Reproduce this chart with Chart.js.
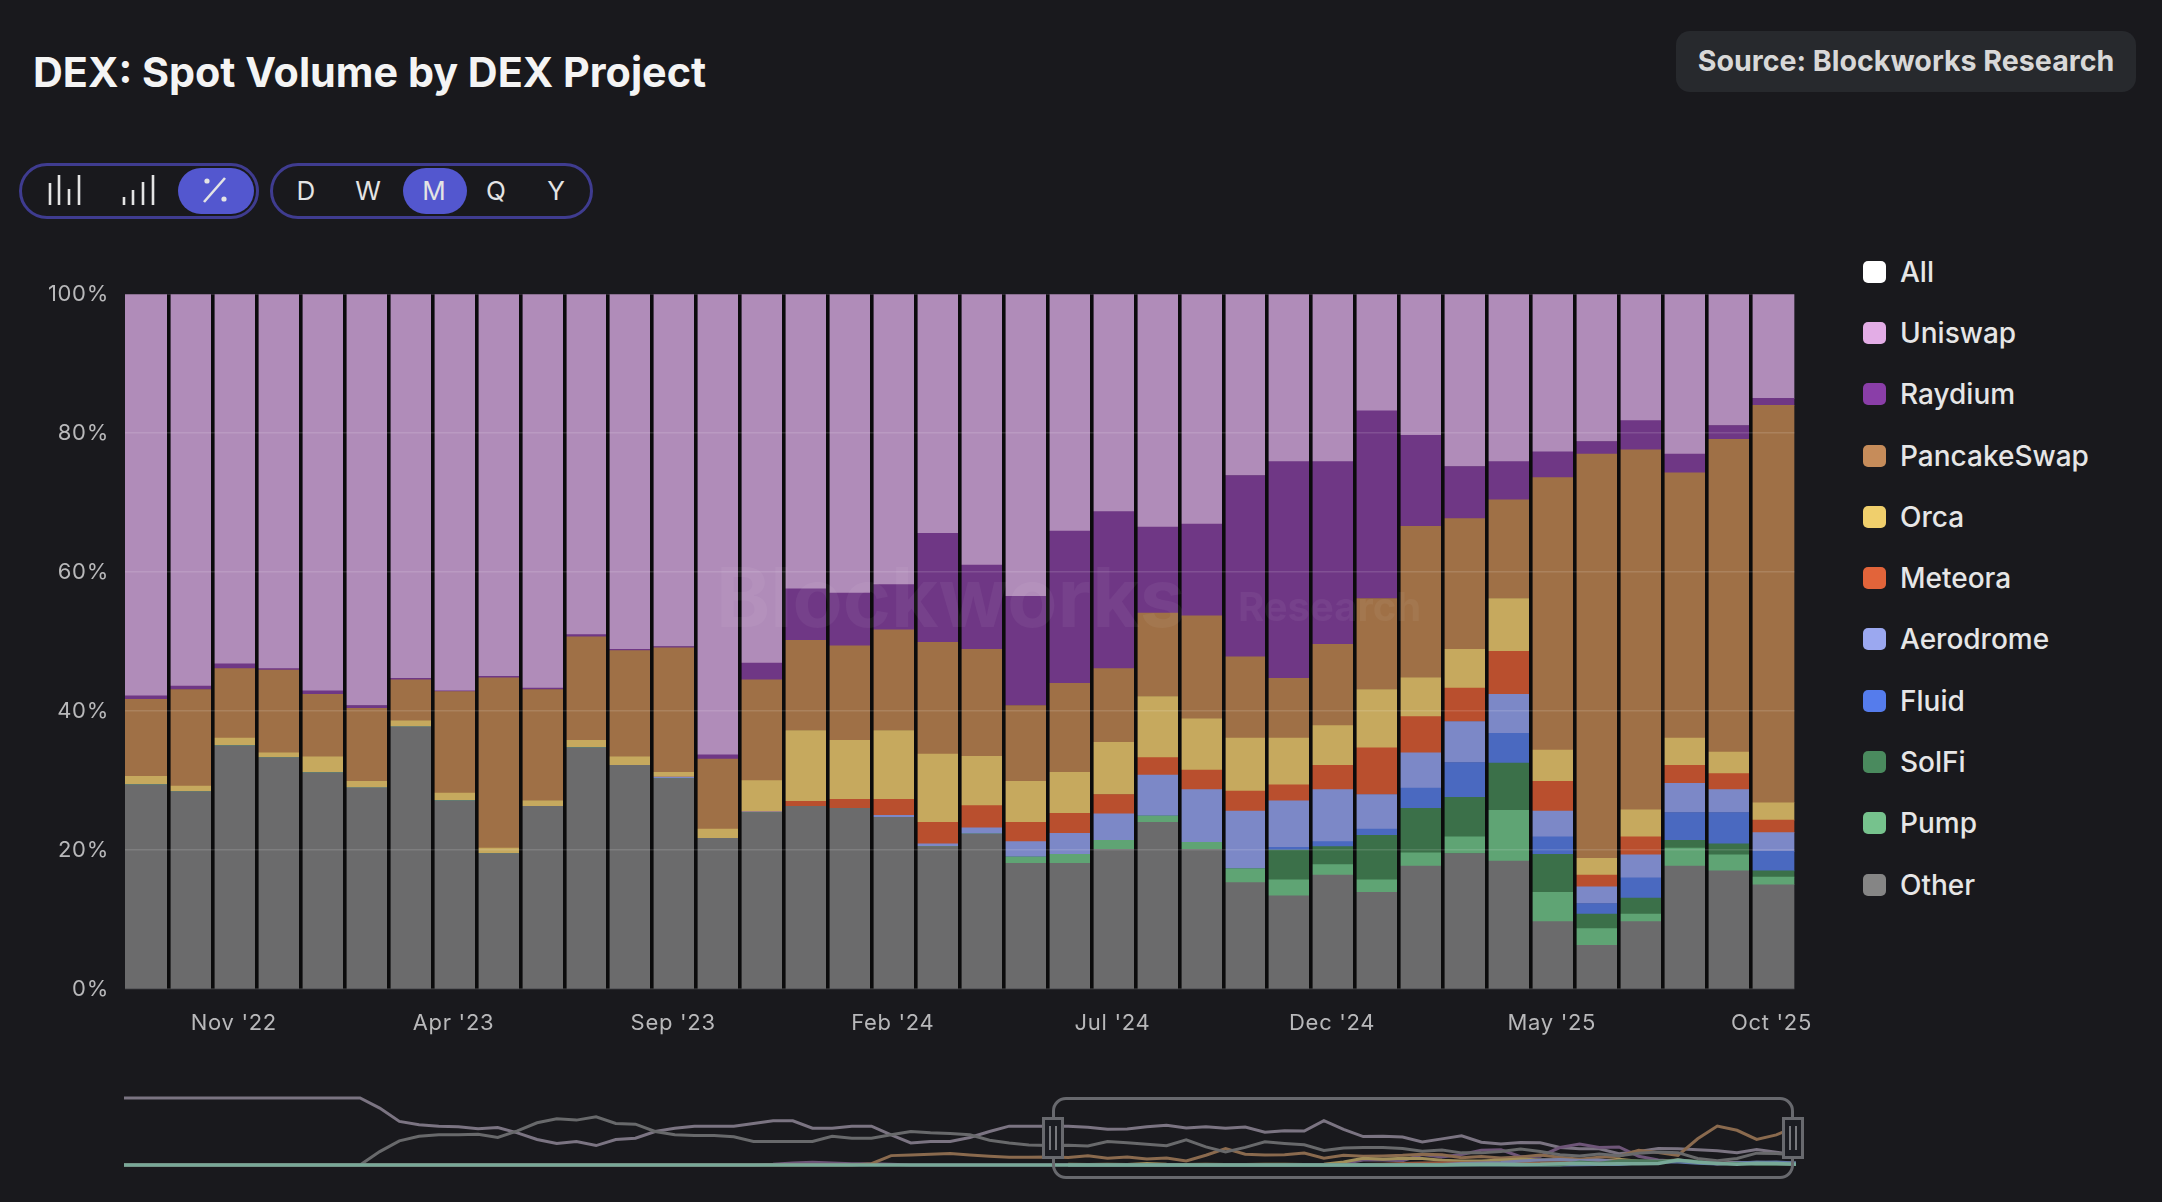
<!DOCTYPE html>
<html>
<head>
<meta charset="utf-8">
<title>DEX: Spot Volume by DEX Project</title>
<script src="https://cdn.jsdelivr.net/npm/chart.js@4"></script>
<style>
  html, body { margin: 0; padding: 0; background: #19191d; width: 2162px; height: 1202px; overflow: hidden; font-family: Inter, "Liberation Sans", sans-serif; }
  .abs { position: absolute; }
  #title { left: 33px; top: 44px; font-size: 41.3px; font-weight: 700; color: #f4f4f4; line-height: 56px; white-space: nowrap; }
  #source { left: 1676px; top: 31px; width: 460px; height: 61px; background: #27292d; border-radius: 14px; color: #d8d8d8; font-size: 28.6px; font-weight: 700; line-height: 59px; text-align: center; white-space: nowrap; }
  .group { top: 163px; height: 50px; border: 3px solid #3f3c90; border-radius: 28px; }
  .pill { top: 168px; height: 46px; background: #5357cf; border-radius: 23px; }
  .letter { top: 168px; height: 46px; line-height: 46px; width: 40px; text-align: center; font-size: 26px; color: #e4e4e4; }
  #legend { left: 1863px; top: 241px; }
  .row { display: flex; align-items: center; height: 61.3px; color: #e6e6e6; font-size: 28px; font-weight: 500; white-space: nowrap; }
  .swatch { width: 23px; height: 22px; border-radius: 5px; margin-right: 14px; }
  #watermark { left: 716px; top: 548px; color: rgba(255,255,255,0.05); font-size: 82px; font-weight: 700; line-height: 100px; white-space: nowrap; pointer-events: none; }
  #watermark2 { left: 1238px; top: 584px; color: rgba(255,255,255,0.05); font-size: 40px; font-weight: 700; line-height: 46px; white-space: nowrap; pointer-events: none; }
  #window { left: 1052px; top: 1097px; width: 736px; height: 76px; border: 3px solid #68696e; border-radius: 14px; }
  .handle { top: 1117px; width: 16px; height: 36px; background: #1b1c22; border: 3px solid #68696e; }
  .handle i { position: absolute; top: 6px; height: 24px; width: 2px; background: #77787d; }
</style>
</head>
<body>
<div id="title" class="abs">DEX: Spot Volume by DEX Project</div>
<div id="source" class="abs">Source: Blockworks Research</div>

<div class="abs group" style="left:19px;width:234px"></div>
<div class="abs group" style="left:270px;width:317px"></div>
<div class="abs pill" style="left:178px;width:76px"></div>
<div class="abs pill" style="left:403px;width:64px"></div>
<svg class="abs" style="left:0;top:0" width="300" height="240" stroke="#e4e4e4" stroke-width="2.6" fill="none">
  <path d="M50 205V183M59 205V175M69 205V189M79 205V175"/>
  <path d="M124 205V197M133 205V190M143 205V182M153 205V175"/>
  <path d="M225 178L204 202"/>
  <circle cx="207" cy="181" r="2.6" fill="#e4e4e4" stroke="none"/>
  <circle cx="224" cy="199" r="2.6" fill="#e4e4e4" stroke="none"/>
</svg>
<div id="letters"></div>

<canvas id="mainChart" class="abs" style="left:0;top:265px"></canvas>
<div id="watermark" class="abs">Blockworks</div>
<div id="watermark2" class="abs">Research</div>
<div id="legend" class="abs"></div>

<canvas id="navChart" class="abs" style="left:124px;top:1090px"></canvas>
<div id="window" class="abs"></div>
<div class="abs handle" style="left:1042px"><i style="left:4px"></i><i style="left:10px"></i></div>
<div class="abs handle" style="left:1782px"><i style="left:4px"></i><i style="left:10px"></i></div>

<script>
// Months shown in the main chart
const months = ["Sep '22","Oct '22","Nov '22","Dec '22","Jan '23","Feb '23","Mar '23","Apr '23","May '23","Jun '23","Jul '23","Aug '23","Sep '23","Oct '23","Nov '23","Dec '23","Jan '24","Feb '24","Mar '24","Apr '24","May '24","Jun '24","Jul '24","Aug '24","Sep '24","Oct '24","Nov '24","Dec '24","Jan '25","Feb '25","Mar '25","Apr '25","May '25","Jun '25","Jul '25","Aug '25","Sep '25","Oct '25"];
const yTicks = [0, 20, 40, 60, 80, 100];
const periods = ['D', 'W', 'M', 'Q', 'Y'];

// Share of monthly volume, %
const uniswap = [57.8,56.4,53.2,53.9,57.1,59.2,55.3,57.1,55.0,56.7,49.0,51.1,50.7,66.3,53.2,42.4,43.0,41.8,34.4,39.0,43.5,34.1,31.3,33.5,33.1,26.1,24.1,24.1,16.8,20.3,24.8,24.1,22.7,21.2,18.2,23.0,18.9,15.0];
const raydium = [0.5,0.5,0.7,0.2,0.5,0.4,0.2,0.1,0.2,0.2,0.3,0.2,0.2,0.6,2.4,7.4,7.6,6.5,15.7,12.1,15.7,21.9,22.6,12.4,13.2,26.1,31.2,26.3,27.0,13.1,7.5,5.5,3.7,1.8,4.2,2.7,2.0,1.0];
const pancakeswap = [11.1,13.9,10.0,11.9,9.0,10.5,5.9,14.6,24.5,16.0,14.9,15.3,17.9,10.1,14.5,13.0,13.6,14.5,16.1,15.4,10.9,12.8,10.6,12.0,14.8,11.7,8.6,11.7,13.1,21.8,18.8,14.2,39.2,58.2,51.8,38.2,45.0,57.2];
const orca = [1.2,0.8,1.1,0.7,2.3,1.0,0.9,1.1,0.8,0.8,1.1,1.2,0.7,1.3,4.5,10.2,8.5,9.9,9.8,7.1,5.9,5.9,7.5,8.8,7.4,7.6,6.7,5.7,8.4,5.6,5.6,7.6,4.5,2.4,3.9,3.9,3.1,2.5];
const meteora = [0,0,0,0,0,0,0,0,0,0,0,0,0,0,0,0.7,1.3,2.3,3.1,3.2,2.8,2.9,2.8,2.5,2.8,2.9,2.3,3.5,6.7,5.2,4.8,6.2,4.3,1.7,2.6,2.6,2.3,1.8];
const aerodrome = [0,0,0,0,0,0,0,0,0,0,0,0,0.2,0,0.1,0,0,0.3,0.4,0.9,2.2,3.0,3.8,5.9,7.6,8.3,6.7,7.5,5.0,5.1,5.9,5.6,3.7,2.4,3.3,4.2,3.3,2.7];
const fluid = [0,0,0,0,0,0,0,0,0,0,0,0,0,0,0,0,0,0,0,0,0,0,0,0,0,0,0.4,0.7,0.9,2.9,5.0,4.3,2.5,1.5,2.9,4.0,4.5,2.8];
const solfi = [0,0,0,0,0,0,0,0,0,0,0,0,0,0,0,0,0,0,0,0,0,0,0,0,0,0,4.3,2.6,6.4,6.4,5.7,6.8,5.5,2.1,2.3,1.1,1.6,0.9];
const pump = [0,0,0,0,0,0,0,0,0,0,0,0,0,0,0,0,0,0,0,0,0.9,1.3,1.3,0.9,1.0,2.0,2.3,1.5,1.8,1.9,2.4,7.3,4.2,2.4,1.1,2.6,2.3,1.1];
const other = [29.4,28.4,35.0,33.3,31.1,28.9,37.7,27.1,19.5,26.3,34.7,32.2,30.3,21.7,25.4,26.3,26.0,24.7,20.5,22.3,18.1,18.1,20.1,24.0,20.1,15.3,13.4,16.4,13.9,17.7,19.5,18.4,9.7,6.3,9.7,17.7,17.0,15.0];

// Navigator history before the selected window (48 months)
const uniswapHistory = [100,100,100,100,100,100,100,100,100,100,100,100,100,85,65,60,58,57,54,56,48,38,32,35,29,38,40,50,55,58,58,58,62,66,66,55,55,58,58,45,33,35,35,41,50,58,58,58];
const otherHistory = [0,0,0,0,0,0,0,0,0,0,0,0,0,20,36,43,45,45,46,41,51,63,69,67,72,62,61,50,45,44,44,42,35,35,35,35,43,40,40,45,50,48,47,45,37,33,30,29];
const pancakeHistory = [0,0,0,0,0,0,0,0,0,0,0,0,0,0,0,0,0,0,0,0,0,0,0,0,0,0,0,0,0,0,0,0,0,0,0,0,0,0,2,14,15,16,17,15,13,11.5,11.5,12];
const raydiumHistory = [0,0,0,0,0,0,0,0,0,0,0,0,0,0,0,0,0,0,0,0,0,0,0,0,0,0,0,0,0,0,0,0,0,1,3,4,3,2,2,1,0,0,0,0,0,0,0,0];
const pumpHistory = [0,0,0,0,0,0,0,0,0,0,0,0,0,0,0,0,0,0,0,0,0,0,0,0,0,0,0,0,0,0,0,0,0,0,0,0,0,0,0,0,0,0,0,0,0,0,0,0];

const legendNames = ['All','Uniswap','Raydium','PancakeSwap','Orca','Meteora','Aerodrome','Fluid','SolFi','Pump','Other'];
const legendColors = ['#ffffff','#e3ade6','#8a3ea8','#c68c5a','#f0cf6c','#e2643a','#9ba8f0','#557cec','#4a8a5e','#76c28d','#858585'];

// Bottom of the stack first
const stack = [
  { label: 'Other', data: other, color: '#6b6b6c', nav: '#68696b' },
  { label: 'Pump', data: pump, color: '#5fa474', nav: '#78a898' },
  { label: 'SolFi', data: solfi, color: '#3b7049', nav: '#4d7a5e' },
  { label: 'Fluid', data: fluid, color: '#4a69c0', nav: '#6077a8' },
  { label: 'Aerodrome', data: aerodrome, color: '#7c88c7', nav: '#7a80a6' },
  { label: 'Meteora', data: meteora, color: '#b94f2e', nav: '#96593f' },
  { label: 'Orca', data: orca, color: '#c6a95e', nav: '#a08e5a' },
  { label: 'PancakeSwap', data: pancakeswap, color: '#9f7046', nav: '#8a6a4e' },
  { label: 'Raydium', data: raydium, color: '#6f3785', nav: '#6e5578' },
  { label: 'Uniswap', data: uniswap, color: '#b08cb9', nav: '#7b7482' }
];

// Toolbar letters
const letterCentres = [306, 368, 434, 496, 556];
document.getElementById('letters').innerHTML = periods.map((p, i) =>
  `<div class="abs letter" style="left:${letterCentres[i] - 20}px">${p}</div>`).join('');

// Legend
document.getElementById('legend').innerHTML = legendNames.map((name, i) =>
  `<div class="row"><span class="swatch" style="background:${legendColors[i]}"></span>${name}</div>`).join('');

Chart.defaults.font.family = 'Inter, "Liberation Sans", sans-serif';
Chart.defaults.animation = false;

const tickColor = '#b8b8ba';

const mainCanvas = document.getElementById('mainChart');
mainCanvas.style.width = '1832px';
mainCanvas.style.height = '785px';
mainCanvas.width = 1832;
mainCanvas.height = 785;

// Tick labels in the reference are spaced a little wider than the plain font
const wideTicks = {
  id: 'wideTicks',
  beforeDraw: chart => { chart.ctx.letterSpacing = '0.7px'; }
};

new Chart(mainCanvas, {
  type: 'bar',
  plugins: [wideTicks],
  data: {
    labels: months,
    datasets: stack.map(s => ({
      label: s.label,
      data: s.data,
      backgroundColor: s.color,
      borderWidth: 0,
      barPercentage: 1,
      categoryPercentage: 1
    }))
  },
  options: {
    responsive: false,
    devicePixelRatio: 1,
    layout: { padding: { top: 19, right: 34, bottom: 0, left: 0 } },
    plugins: { legend: { display: false }, tooltip: { enabled: false } },
    scales: {
      x: {
        stacked: true,
        afterFit: scale => { scale.height = 61; },
        border: { display: false },
        grid: {
          offset: true,
          z: 1,
          lineWidth: 3.6,
          drawTicks: false,
          color: ctx => (ctx.index > 0 ? '#0b0b0c' : 'rgba(0,0,0,0)')
        },
        ticks: {
          autoSkip: false,
          maxRotation: 0,
          padding: 21,
          labelOffset: -1,
          color: tickColor,
          font: { size: 22 },
          callback: (v, i) => (i % 5 === 2 ? months[i] : '')
        }
      },
      y: {
        stacked: true,
        min: 0,
        max: 100,
        afterFit: scale => { scale.width = 125; },
        afterBuildTicks: scale => { scale.ticks = yTicks.map(value => ({ value })); },
        border: { display: false },
        grid: {
          z: 2,
          lineWidth: 1.5,
          drawTicks: false,
          color: ctx => (ctx.tick && ctx.tick.value === 100 ? 'rgba(0,0,0,0)' : 'rgba(255,255,255,0.13)')
        },
        ticks: {
          padding: 16,
          color: tickColor,
          font: { size: 22 },
          callback: v => v + '%'
        }
      }
    }
  }
});

// Navigator: the full history, with the main window at its right end
const historyOf = { Uniswap: uniswapHistory, Other: otherHistory, PancakeSwap: pancakeHistory, Raydium: raydiumHistory, Pump: pumpHistory };
const offset = uniswapHistory.length;

const navCanvas = document.getElementById('navChart');
navCanvas.style.width = '1672px';
navCanvas.style.height = '85px';
navCanvas.width = 1672;
navCanvas.height = 85;

new Chart(navCanvas, {
  type: 'line',
  data: {
    datasets: stack.map(s => {
      const before = (historyOf[s.label] || []).map((y, x) => ({ x, y }));
      const after = s.data.map((y, i) => ({ x: i + offset, y }));
      return {
        label: s.label,
        data: before.concat(after),
        borderColor: s.nav,
        borderWidth: s.label === 'Pump' ? 3.5 : 3,
        pointRadius: 0,
        tension: 0,
        clip: false,
        order: s.label === 'Pump' ? 0 : 1
      };
    })
  },
  options: {
    responsive: false,
    devicePixelRatio: 1,
    layout: { padding: { top: 8, bottom: 10, left: 0, right: 0 } },
    plugins: { legend: { display: false }, tooltip: { enabled: false } },
    scales: {
      x: { type: 'linear', display: false, min: 0, max: offset + months.length - 1 },
      y: { display: false, min: 0, max: 100 }
    }
  }
});
</script>
</body>
</html>
